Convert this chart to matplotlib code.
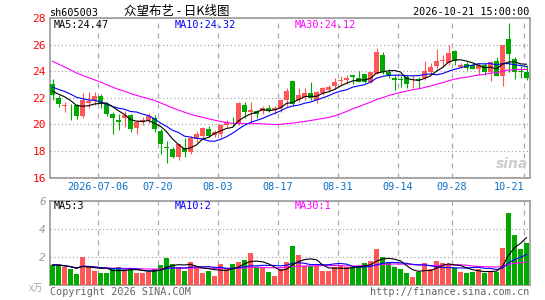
import matplotlib
matplotlib.use("Agg")
import matplotlib.pyplot as plt
import numpy as np
import pandas as pd

# daily OHLC, 2026-06-24 .. 2026-10-21 (80 trading days)
opens = [23.0, 22.0, 21.4, 21.4, 21.45, 20.6, 21.6, 21.75, 22.1, 21.5,
         20.75, 20.3, 20.45, 20.7, 19.75, 20.2, 20.3, 20.5, 19.5, 18.3,
         18.15, 17.55, 18.2, 17.9, 18.9, 19.1, 19.65, 19.2, 19.3, 19.95,
         20.2, 20.1, 21.45, 20.9, 21.0, 21.0, 21.25, 21.1, 21.25, 21.8,
         23.25, 21.8, 22.05, 22.35, 21.8, 22.35, 22.55, 22.9, 23.25, 23.35,
         23.7, 23.5, 23.75, 23.2, 23.8, 25.25, 23.95, 23.5, 23.4, 23.55,
         23.45, 23.4, 23.45, 23.9, 24.4, 24.8, 24.65, 25.5, 24.3, 24.55,
         24.5, 24.2, 24.5, 23.9, 24.8, 23.65, 26.45, 24.95, 24.0, 23.95]
highs = [23.4, 22.2, 21.7, 21.55, 21.5, 22.35, 22.4, 22.45, 22.25, 21.6,
         20.95, 20.8, 21.0, 20.8, 20.3, 20.55, 20.85, 20.7, 19.65, 18.75,
         18.3, 18.55, 18.95, 19.1, 19.5, 19.8, 19.9, 19.55, 20.0, 20.3,
         20.55, 21.7, 21.65, 21.65, 21.1, 21.4, 21.45, 21.4, 21.9, 22.7,
         23.25, 22.7, 22.7, 23.2, 22.5, 22.8, 22.95, 23.45, 23.6, 23.7,
         23.7, 24.0, 23.75, 23.95, 25.75, 25.45, 24.2, 23.7, 23.65, 23.7,
         23.7, 23.55, 24.8, 24.6, 25.7, 25.25, 26.0, 25.6, 24.6, 24.7,
         24.65, 24.65, 24.65, 24.75, 25.05, 26.0, 27.65, 25.1, 24.4, 24.45]
lows = [21.8, 21.3, 20.95, 20.35, 20.4, 20.45, 21.25, 21.45, 21.25, 20.65,
        19.3, 19.6, 19.8, 19.4, 19.3, 19.95, 20.1, 19.45, 17.8, 17.1,
        17.45, 17.35, 17.55, 17.8, 18.65, 18.95, 19.05, 19.05, 19.05, 19.8,
        19.9, 19.95, 20.45, 20.2, 20.5, 20.75, 20.95, 20.75, 20.95, 21.4,
        21.4, 21.7, 21.8, 21.8, 21.6, 22.2, 22.4, 22.65, 22.9, 23.05,
        23.0, 23.2, 23.1, 23.1, 23.8, 23.75, 23.45, 22.55, 22.8, 22.7,
        22.7, 22.75, 23.3, 23.8, 24.2, 24.3, 24.45, 24.45, 24.25, 24.1,
        24.15, 23.7, 23.7, 23.25, 23.6, 22.9, 23.95, 23.4, 23.45, 23.35]
closes = [22.2, 21.55, 21.45, 21.35, 20.6, 21.85, 21.75, 22.1, 21.6, 20.75,
          20.45, 20.2, 20.7, 19.65, 20.2, 20.3, 20.6, 19.65, 18.5, 18.2,
          17.55, 18.5, 17.95, 18.95, 19.3, 19.75, 19.15, 19.4, 19.95, 20.2,
          20.15, 21.6, 20.9, 21.05, 20.8, 21.25, 21.1, 21.25, 21.8, 22.5,
          21.55, 22.2, 22.35, 21.95, 22.45, 22.7, 22.8, 23.2, 23.3, 23.45,
          23.55, 23.2, 23.2, 23.9, 25.45, 23.95, 23.65, 23.3, 23.35, 23.0,
          23.5, 23.35, 24.05, 24.35, 24.75, 24.85, 25.4, 24.8, 24.5, 24.25,
          24.2, 24.45, 23.9, 24.7, 23.6, 25.95, 25.3, 23.95, 23.95, 23.45]
# closes before the window, only used to start the moving averages
prev_close = [28.2, 27.9, 27.6, 27.8, 27.3, 27.0, 26.9, 26.6, 26.5, 26.1,
              25.3, 24.9, 24.7, 24.5, 24.2, 23.85, 24.1, 23.9, 23.6, 23.55,
              23.3, 22.9, 23.4, 23.0, 22.9, 22.7, 22.4, 22.8, 22.4]
# volume, 万手
volumes = [1.43, 1.43, 1.26, 1.12, 0.79, 2.0, 1.26, 1.02, 0.88, 0.88,
           1.12, 1.26, 1.02, 1.19, 0.88, 0.88, 0.95, 1.12, 1.43, 1.95,
           1.5, 1.26, 1.0, 1.67, 1.26, 0.88, 1.02, 0.64, 1.5, 1.12,
           1.5, 1.67, 1.79, 2.31, 1.26, 1.26, 0.95, 0.64, 1.12, 1.67,
           2.79, 2.14, 1.36, 1.36, 1.36, 1.02, 1.02, 1.26, 1.36, 1.26,
           1.26, 1.36, 1.6, 1.74, 2.57, 2.02, 1.6, 1.31, 1.12, 0.88,
           0.6, 0.95, 1.6, 1.12, 1.74, 1.6, 1.5, 1.19, 0.95, 0.88,
           0.95, 1.12, 0.88, 1.02, 0.95, 2.67, 5.12, 3.57, 2.57, 2.98]

tick_idx = [8, 18, 28, 38, 48, 58, 67, 79]
tick_labels = ["2026-07-06", "07-20", "08-03", "08-17", "08-31", "09-14", "09-28", "10-21"]

RED = "#ff5656"
GREEN = "#00a800"
GRID = "#aaaaaa"
MONO = "DejaVu Sans Mono"
CJK = ["Noto Sans CJK SC", "DejaVu Sans"]

n = len(closes)
x = np.arange(n)
colors = [RED if c >= o else GREEN for o, c in zip(opens, closes)]

full = pd.Series(prev_close + closes)
ma = {k: full.rolling(k).mean().to_numpy()[-n:] for k in (5, 10, 30)}
vs = pd.Series(volumes)
vma = {k: vs.rolling(k, min_periods=1).mean().to_numpy() for k in (5, 10, 30)}

W, H = 545, 300
fig = plt.figure(figsize=(W / 100, H / 100), dpi=100)
ax = fig.add_axes([50 / W, 122.5 / H, 479.5 / W, 159.5 / H])
axv = fig.add_axes([50 / W, 15 / H, 479.5 / W, 84 / H])

grid_x = [i - 0.4 for i in tick_idx]
for a in (ax, axv):
    a.set_xlim(-0.42, n - 0.5)
    for s in a.spines.values():
        s.set_color("#999999")
        s.set_linewidth(1.2)
    a.set_xticks(grid_x)
    a.grid(axis="x", color=GRID, linestyle=(0, (4, 4)), linewidth=0.9)
    a.grid(axis="y", color=GRID, linestyle=(0, (1, 2)), linewidth=0.9)
    a.tick_params(length=0)
    a.set_axisbelow(True)

# candles
ax.vlines(x, lows, highs, colors=colors, linewidth=0.8, zorder=2)
body_b = np.minimum(opens, closes)
body_h = np.maximum(np.abs(np.array(closes) - np.array(opens)), 0.03)
ax.bar(x, body_h, bottom=body_b, width=0.8, color=colors, linewidth=0, zorder=3)
ax.plot(x, ma[30], color="#ff00ff", linewidth=0.8, zorder=4)
ax.plot(x, ma[10], color="#0000ff", linewidth=0.8, zorder=4)
ax.plot(x, ma[5], color="black", linewidth=0.8, zorder=4)
ax.set_ylim(16, 28)
ax.set_yticks(range(16, 29, 2))
ax.tick_params(axis="y", labelcolor="red", labelsize=8, pad=3)
ax.set_xticklabels(tick_labels)
ax.tick_params(axis="x", labelcolor="#0a70c8", labelsize=7.3, pad=3)
for lab in ax.get_yticklabels() + ax.get_xticklabels():
    lab.set_family(MONO)
ax.get_xticklabels()[-1].set_horizontalalignment("right")

# volume
axv.bar(x, volumes, width=0.8, color=colors, linewidth=0, zorder=3)
axv.plot(x, vma[30], color="#ff00ff", linewidth=0.8, zorder=4)
axv.plot(x, vma[10], color="#0000ff", linewidth=0.8, zorder=4)
axv.plot(x, vma[5], color="black", linewidth=0.8, zorder=4)
axv.set_ylim(0, 6)
axv.set_yticks([2, 4, 6])
axv.set_xticklabels([])
axv.tick_params(axis="y", labelcolor="#999999", labelsize=8, pad=3)
for lab in axv.get_yticklabels():
    lab.set_family(MONO)
    lab.set_style("italic")

def ftext(px, py, s, **kw):
    kw.setdefault("family", MONO)
    kw.setdefault("fontsize", 7.3)
    kw.setdefault("va", "center")
    fig.text(px / W, 1 - py / H, s, **kw)

ftext(50, 13, "sh605003")
ftext(177, 11, "众望布艺 - 日K线图", family=CJK, fontsize=9, ha="center")
ftext(529, 12, "2026-10-21 15:00:00", ha="right")
ftext(54, 25, "MA5:24.47", color="black")
ftext(175, 25, "MA10:24.32", color="#0000ff")
ftext(295, 25, "MA30:24.12", color="#ff00ff")
ftext(54, 206, "MA5:3", color="black")
ftext(175, 206, "MA10:2", color="#0000ff")
ftext(295, 206, "MA30:1", color="#ff00ff")
ftext(36, 288, "x万", family=CJK, fontsize=7, color="#aaaaaa", ha="center", style="italic")
ftext(50, 292, "Copyright 2026 SINA.COM", color="#666666")
ftext(529, 292, "http://finance.sina.com.cn", color="#666666", ha="right")
ftext(512, 164, "sina", family="DejaVu Sans", fontsize=10, color="#cccccc",
      ha="center", style="italic", weight="bold")

fig.savefig("out.png", dpi=100)
